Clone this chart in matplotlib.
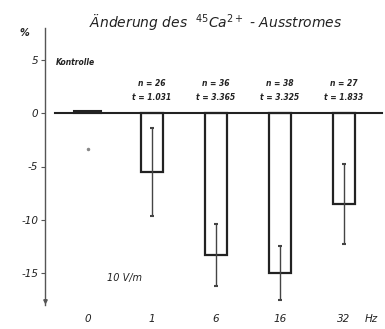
import numpy as np
import matplotlib.pyplot as plt

# frequencies (Hz) and change of the 45Ca2+ efflux in %
freqs = ['0', '1', '6', '16', '32']
change = [0.25, -5.5, -13.3, -15.0, -8.5]
err = [3.6, 4.1, 2.9, 2.5, 3.75]
n_vals = ['26', '36', '38', '27']
t_vals = ['1.031', '3.365', '3.325', '1.833']

plt.rcParams['font.family'] = 'DejaVu Sans'
ink = '#222222'

fig = plt.figure(figsize=(3.85, 3.29), dpi=100)
ax = fig.add_axes([45 / 385, 24 / 329, 340 / 385, 277 / 329])

pos = np.arange(len(freqs))
ax.set_xlim(-0.67, 4.64)
ax.set_ylim(-18, 8)

# control as a thin filled strip, stimulated groups as open bars
ax.bar(pos[0], change[0], 0.42, color=ink, edgecolor=ink, lw=1.5)
ax.plot(pos[0], change[0] - err[0], marker='o', ms=1.5, color='#888888')
ax.bar(pos[1:], change[1:], 0.34, color='white', edgecolor=ink, lw=1.6, zorder=2)
ax.errorbar(pos[1:], change[1:], yerr=err[1:], fmt='none', ecolor='#444444',
            elinewidth=1.0, capsize=1.5, capthick=1.5, zorder=3)

ax.plot([-0.52, 4.6], [0, 0], color=ink, lw=1.5, zorder=4)

for s in ['top', 'right', 'bottom']:
    ax.spines[s].set_visible(False)
ax.spines['left'].set_color('#555555')
ax.spines['left'].set_linewidth(1.0)
ax.plot(-0.67, -17.6, marker='v', ms=2.5, color='#555555', clip_on=False)

ax.set_yticks([5, 0, -5, -10, -15])
ax.set_yticklabels(['5', '0', '-5', '-10', '-15'], fontsize=7.5,
                   style='italic', color=ink)
ax.tick_params(axis='y', length=3, width=0.8, pad=2, colors='#555555',
               labelcolor=ink)
ax.set_xticks([])

for x, f in zip(pos, freqs):
    ax.text(x, -19.3, f, ha='center', va='center', fontsize=7.5,
            style='italic', color=ink, clip_on=False)
ax.text(4.43, -19.3, 'Hz', ha='center', va='center', fontsize=7.5,
        style='italic', color=ink, clip_on=False)

for x, nv, tv in zip(pos[1:], n_vals, t_vals):
    ax.text(x, 2.8, 'n = ' + nv, ha='center', va='center', fontsize=5.5,
            style='italic', weight='bold', color=ink)
    ax.text(x, 1.5, 't = ' + tv, ha='center', va='center', fontsize=5.5,
            style='italic', weight='bold', color=ink)

ax.text(-0.5, 4.8, 'Kontrolle', ha='left', va='center', fontsize=5.5,
        style='italic', weight='bold', color=ink)
ax.text(0.3, -15.5, '10 V/m', ha='left', va='center', fontsize=7,
        style='italic', color=ink)
ax.text(-1.0, 7.5, '%', ha='center', va='center', fontsize=7,
        style='italic', weight='bold', color=ink, clip_on=False)

fig.text(0.56, 0.93, r'Änderung des  $^{45}$Ca$^{2+}$ - Ausstromes',
         ha='center', va='center', fontsize=10, style='italic', color=ink)

fig.savefig('out.png', dpi=100)
